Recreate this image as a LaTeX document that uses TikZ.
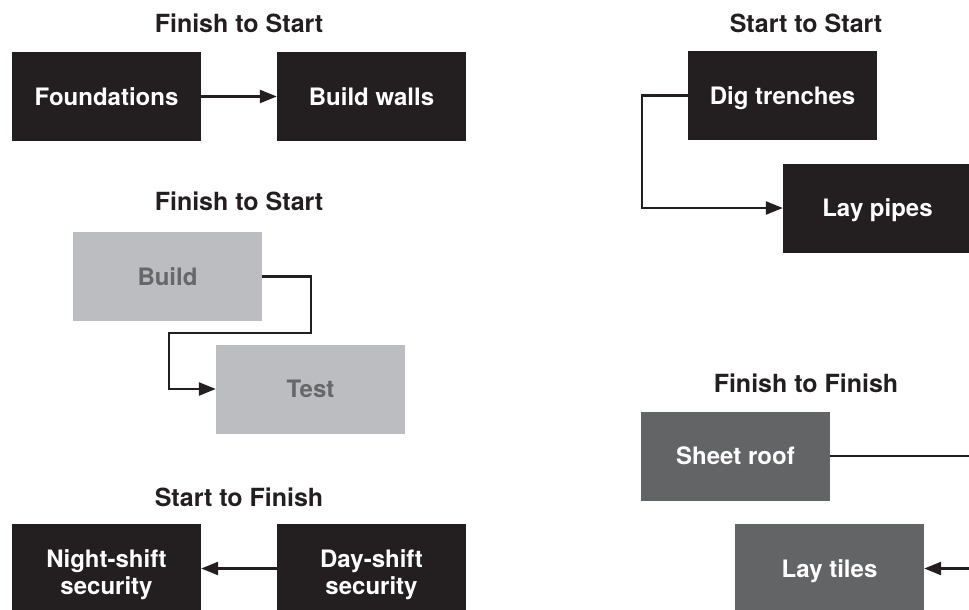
\documentclass[tikz,border=0pt]{standalone}
\usepackage{fontspec}
\setmainfont{TeX Gyre Heros}
\usetikzlibrary{arrows.meta}
\definecolor{boxblack}{HTML}{231F20}
\definecolor{boxlight}{HTML}{BCBDC0}
\definecolor{txtlight}{HTML}{666769}
\definecolor{boxmid}{HTML}{636466}
\definecolor{linec}{HTML}{231F20}
\tikzset{
  boxfont/.style={font=\fontsize{24}{26.5}\selectfont\bfseries},
  blk/.style={fill=boxblack, text=white, minimum width=189pt, minimum height=89pt, inner sep=0pt,
    boxfont, align=center},
  lgt/.style={blk, fill=boxlight, text=txtlight},
  mid/.style={blk, fill=boxmid},
  onel/.style={text height=17pt, text depth=0pt},
  twol/.style={boxfont, text=white, align=center, inner sep=0pt, yshift=-6pt},
  ttl/.style={font=\fontsize{25}{28}\selectfont\bfseries, text=boxblack, inner sep=0pt},
  conn/.style={draw=linec, line width=2.5pt},
  arr/.style={conn, -{Triangle[length=17pt, width=13pt]}}
}
\begin{document}
\begin{tikzpicture}[x=1pt, y=-1pt]
\useasboundingbox (0,0) rectangle (969,610);
\clip (0,0) rectangle (969,610);
% Finish to Start (top)
\node[ttl] (t1) at (239,23) {Finish to Start};
\node[blk, onel] (found) at (106.5,96.5) {Foundations};
\node[blk, onel] (walls) at (371.5,96.5) {Build walls};
\draw[arr] (found.east) -- (walls.west);
% Finish to Start (second)
\node[ttl] (t2) at (239,201) {Finish to Start};
\node[lgt, onel] (build) at (167.5,276.5) {Build};
\node[lgt, onel] (test) at (310.5,389) {Test};
\coordinate (bt1) at (311,333);
\coordinate (bt2) at (169,333);
\draw[arr] (build.east) -| (bt1) -- (bt2) |- (test.west);
% Start to Finish
\node[ttl] (t3) at (239,497) {Start to Finish};
\node[blk, label={[twol]center:{Night-shift\\security}}] (night) at (106.5,568.5) {};
\node[blk, label={[twol]center:{Day-shift\\security}}] (day) at (371.5,568.5) {};
\draw[arr] (day.west) -- (night.east);
% Start to Start
\node[ttl] (t4) at (806,23) {Start to Start};
\node[blk, onel] (dig) at (782.5,95.5) {Dig trenches};
\node[blk, onel] (pipes) at (877.5,208) {Lay pipes};
\coordinate (dp) at (642,150);
\draw[arr] (dig.west) -| (dp) |- (pipes.west);
% Finish to Finish
\node[ttl] (t5) at (806,383) {Finish to Finish};
\node[mid, onel] (roof) at (735.5,456) {Sheet roof};
\node[mid, onel] (tiles) at (829.5,568.5) {Lay tiles};
\coordinate (ff) at (1000,510);
\draw[arr] (roof.east) -| (ff) |- (tiles.east);
\end{tikzpicture}
\end{document}
